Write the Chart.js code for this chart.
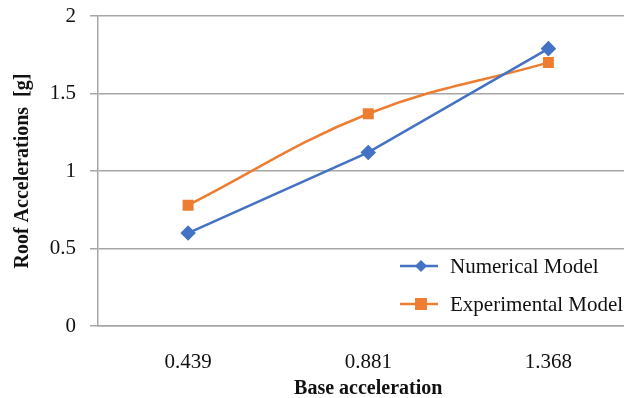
<!DOCTYPE html>
<html>
<head>
<meta charset="utf-8">
<script src="https://cdn.jsdelivr.net/npm/chart.js@4"></script>
<style>
  html, body { margin: 0; padding: 0; background: #fff; overflow: hidden; }
  #wrap { width: 647px; height: 398px; position: relative; }
</style>
</head>
<body>
<div id="wrap"><canvas id="c"></canvas></div>
<script>
const categories = ['0.439', '0.881', '1.368'];
const numericalModel = [0.60, 1.12, 1.79];
const experimentalModel = [0.78, 1.37, 1.70];
const yTicks = [0, 0.5, 1, 1.5, 2];

const FONT = "'Liberation Serif', 'Times New Roman', serif";
const BLUE = '#4472C4';
const ORANGE = '#ED7D31';

// Legend drawn inside the plot area, lower right
const innerLegend = {
  id: 'innerLegend',
  afterDraw(chart) {
    const ctx = chart.ctx;
    const rows = [
      { ds: chart.data.datasets[0], y: 266 },
      { ds: chart.data.datasets[1], y: 304 }
    ];
    ctx.save();
    rows.forEach(r => {
      ctx.strokeStyle = r.ds.borderColor;
      ctx.lineWidth = 2.5;
      ctx.beginPath();
      ctx.moveTo(400, r.y);
      ctx.lineTo(438, r.y);
      ctx.stroke();
      ctx.fillStyle = r.ds.backgroundColor;
      const cx = 421;
      if (r.ds.pointStyle === 'rectRot') {
        ctx.beginPath();
        ctx.moveTo(cx, r.y - 6);
        ctx.lineTo(cx + 6, r.y);
        ctx.lineTo(cx, r.y + 6);
        ctx.lineTo(cx - 6, r.y);
        ctx.closePath();
        ctx.fill();
      } else {
        ctx.fillRect(cx - 6, r.y - 6, 12, 12);
      }
      ctx.fillStyle = '#111';
      ctx.font = '21px ' + FONT;
      ctx.textBaseline = 'middle';
      ctx.textAlign = 'left';
      ctx.fillText(r.ds.label, 450, r.y + 1);
    });
    ctx.restore();
  }
};

new Chart(document.getElementById('c'), {
  type: 'line',
  data: {
    labels: categories,
    datasets: [
      {
        label: 'Numerical Model',
        data: numericalModel,
        borderColor: BLUE,
        backgroundColor: BLUE,
        borderWidth: 2.5,
        pointStyle: 'rectRot',
        pointRadius: 6,
        pointHoverRadius: 6,
        tension: 0
      },
      {
        label: 'Experimental Model',
        data: experimentalModel,
        borderColor: ORANGE,
        backgroundColor: ORANGE,
        borderWidth: 2.5,
        pointStyle: 'rect',
        pointRadius: 6,
        pointHoverRadius: 6,
        tension: 0.4
      }
    ]
  },
  options: {
    responsive: true,
    maintainAspectRatio: false,
    animation: false,
    layout: { padding: { left: 0, right: 0, top: 0, bottom: 0 } },
    plugins: {
      legend: { display: false },
      tooltip: { enabled: false }
    },
    scales: {
      x: {
        offset: true,
        grid: { display: false, drawTicks: false },
        border: { display: true, color: '#a6a6a6', width: 1.5 },
        ticks: {
          color: '#111',
          font: { family: FONT, size: 21 },
          padding: 24,
          maxRotation: 0
        },
        title: {
          display: true,
          text: 'Base acceleration',
          color: '#111',
          font: { family: FONT, size: 20, weight: 'bold' },
          padding: { top: 6, bottom: -3 }
        },
        afterFit(s) { s.height = 72; }
      },
      y: {
        min: 0,
        max: 2,
        afterBuildTicks(s) { s.ticks = yTicks.map(v => ({ value: v })); },
        grid: { color: '#a6a6a6', lineWidth: 1.5, tickLength: 8, drawTicks: true },
        border: { display: true, color: '#a6a6a6', width: 1.5 },
        ticks: {
          color: '#111',
          font: { family: FONT, size: 21, lineHeight: 0.2 },
          padding: 14,
          callback: v => String(v)
        },
        title: {
          display: true,
          text: 'Roof Accelerations  [g]',
          color: '#111',
          font: { family: FONT, size: 20, weight: 'bold' },
          padding: { top: 11, bottom: 0 }
        },
        afterFit(s) { s.width = 98; }
      }
    }
  },
  plugins: [innerLegend]
});
</script>
</body>
</html>
